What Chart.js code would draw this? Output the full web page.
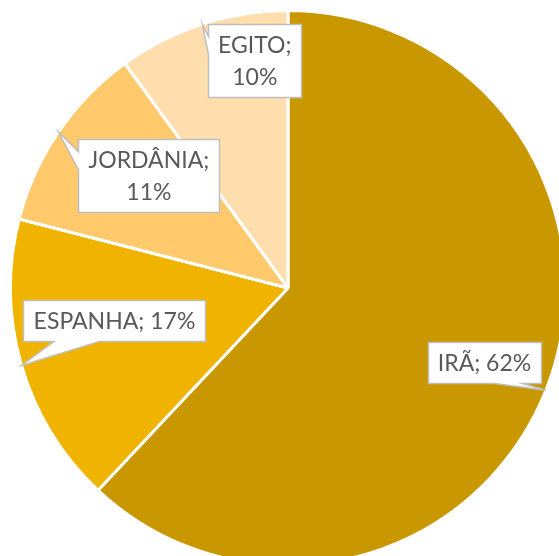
<!DOCTYPE html>
<html>
<head>
<meta charset="utf-8">
<script src="https://cdn.jsdelivr.net/npm/chart.js@4.4.1/dist/chart.umd.min.js"></script>
<style>
  html, body { margin: 0; padding: 0; background: #ffffff; overflow: hidden; width: 559px; height: 556px; }
  #c { display: block; }
</style>
</head>
<body>
<canvas id="c" width="576" height="576"></canvas>
<script>
// ---- data ----
const categories = ['IRÃ', 'ESPANHA', 'JORDÂNIA', 'EGITO'];
const shares = [62, 17, 11, 10];

// ---- styles / layout ----
const sliceColors = ['#C99700', '#F0B400', '#FFC96C', '#FFDEAD'];
// label box centre: angle (degrees clockwise from top) and distance (fraction of radius)
const labelAngles = [110.7, 259.5, 309.0, 351.7];
const labelRadii = [0.757, 0.636, 0.645, 0.829];
const labelWrap = [false, false, true, true];

const FONT = '23px Lato, Carlito, "Open Sans", sans-serif';
const LINE_H = 32;

const calloutPlugin = {
  id: 'callouts',
  afterDatasetsDraw(chart) {
    const ctx = chart.ctx;
    const meta = chart.getDatasetMeta(0);
    const data = chart.data.datasets[0].data;
    const total = data.reduce((a, b) => a + b, 0);
    ctx.save();
    ctx.font = FONT;
    meta.data.forEach((arc, i) => {
      const R = arc.outerRadius;
      const mid = (arc.startAngle + arc.endAngle) / 2;
      const tx = arc.x + Math.cos(mid) * R;
      const ty = arc.y + Math.sin(mid) * R;
      const la = -Math.PI / 2 + labelAngles[i] * Math.PI / 180;
      const cx = arc.x + Math.cos(la) * labelRadii[i] * R;
      const cy = arc.y + Math.sin(la) * labelRadii[i] * R;
      const pct = Math.round(data[i] / total * 100) + '%';
      const lines = labelWrap[i] ? [chart.data.labels[i] + ';', pct] : [chart.data.labels[i] + '; ' + pct];
      const tw = Math.max(...lines.map(l => ctx.measureText(l).width));
      const w = Math.round(tw + 20);
      const h = lines.length * LINE_H + 9;
      const x0 = Math.round(cx - w / 2) + 0.5, y0 = Math.round(cy - h / 2) + 0.5;
      const x1 = x0 + w, y1 = y0 + h;
      // wedge rect callout geometry
      const dxPos = tx - cx, dyPos = ty - cy;
      const dx = dxPos * h / w, dy = dyPos;
      const inside = tx > x0 && tx < x1 && ty > y0 && ty < y1;
      let edge = null;
      if (!inside) {
        if (Math.abs(dx) > Math.abs(dy)) edge = dxPos < 0 ? 'left' : 'right';
        else edge = dyPos < 0 ? 'top' : 'bottom';
      }
      const xa = x0 + w * (dxPos > 0 ? 7 : 2) / 12, xb = x0 + w * (dxPos > 0 ? 10 : 5) / 12;
      const ya = y0 + h * (dyPos > 0 ? 7 : 2) / 12, yb = y0 + h * (dyPos > 0 ? 10 : 5) / 12;
      ctx.beginPath();
      ctx.moveTo(x0, y0);
      if (edge === 'top') { ctx.lineTo(xa, y0); ctx.lineTo(tx, ty); ctx.lineTo(xb, y0); }
      ctx.lineTo(x1, y0);
      if (edge === 'right') { ctx.lineTo(x1, ya); ctx.lineTo(tx, ty); ctx.lineTo(x1, yb); }
      ctx.lineTo(x1, y1);
      if (edge === 'bottom') { ctx.lineTo(xb, y1); ctx.lineTo(tx, ty); ctx.lineTo(xa, y1); }
      ctx.lineTo(x0, y1);
      if (edge === 'left') { ctx.lineTo(x0, yb); ctx.lineTo(tx, ty); ctx.lineTo(x0, ya); }
      ctx.closePath();
      ctx.fillStyle = '#ffffff';
      ctx.fill();
      ctx.lineWidth = 1.5;
      ctx.strokeStyle = '#BFBFBF';
      ctx.lineJoin = 'miter';
      ctx.stroke();
      ctx.fillStyle = '#595959';
      ctx.textAlign = 'center';
      ctx.textBaseline = 'middle';
      const top = cy - (lines.length * LINE_H) / 2 + LINE_H / 2;
      lines.forEach((l, k) => ctx.fillText(l, cx, top + k * LINE_H + 1));
    });
    ctx.restore();
  }
};

new Chart(document.getElementById('c'), {
  type: 'pie',
  data: {
    labels: categories,
    datasets: [{
      data: shares,
      backgroundColor: sliceColors,
      borderColor: '#ffffff',
      borderWidth: 3
    }]
  },
  options: {
    responsive: false,
    animation: false,
    layout: { padding: 9 },
    plugins: {
      legend: { display: false },
      tooltip: { enabled: false }
    }
  },
  plugins: [calloutPlugin]
});
</script>
</body>
</html>
